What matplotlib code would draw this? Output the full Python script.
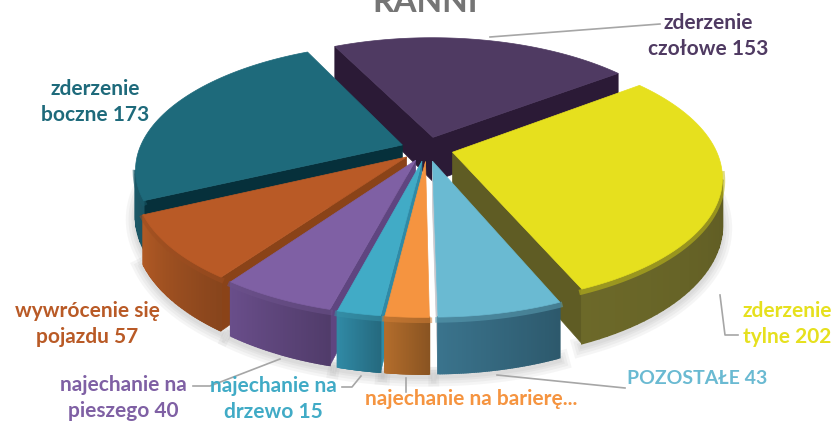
import numpy as np
import matplotlib
matplotlib.use("Agg")
import matplotlib.pyplot as plt
from matplotlib.colors import to_rgb

plt.rcParams["font.family"] = ["Lato", "DejaVu Sans"]

categories = ["zderzenie czołowe", "zderzenie tylne", "POZOSTAŁE", "najechanie na barierę",
              "najechanie na drzewo", "najechanie na pieszego", "wywrócenie się pojazdu",
              "zderzenie boczne"]
values = [153, 202, 43, 15, 15, 40, 57, 173]
tops = ["#4F3A62", "#E6E01E", "#6ABAD2", "#F59440", "#41ABC6", "#7F60A4", "#B95A26", "#1E6A7B"]
sides = ["#2B1A36", "#5F5C24", "#33657B", "#9C5F26", "#2A7890", "#5C4479", "#9A4E20", "#1F6070"]
radials = ["#2B1A36", "#5F5C24", "#C9C9CE", "#C27530", "#2F8AA6", "#5F4580", "#8A4318", "#06303B"]

start_deg = -26
cx, cy = 427, 149
a, b, k, h = 263, 122, 0.185, 45
explode = 0.1


def project(u, v, z=0.0):
    f = 1 / (1 - k * v)
    return cx + a * u * f, cy + (b * v + h * z) * f


def shade(color, amount):
    return tuple(min(1, c * amount) for c in to_rgb(color))


def draw_wedge(ax, t1, t2, top, side, radial):
    mid = (t1 + t2) / 2
    ou, ov = explode * np.sin(mid), -explode * np.cos(mid)
    ts = np.linspace(t1, t2, 60)
    us = ou + np.sin(ts)
    vs = ov - np.cos(ts)
    cam = np.array([0, 1 / k])

    # radial faces, only those turned to the viewer
    for t, sign in ((t1, -1), (t2, 1)):
        n = np.array([np.sin(t + sign * np.pi / 2), -np.cos(t + sign * np.pi / 2)])
        if n @ (cam - np.array([ou, ov])) > 0:
            eu, ev = ou + np.sin(t), ov - np.cos(t)
            pts = [project(ou, ov), project(eu, ev), project(eu, ev, 1), project(ou, ov, 1)]
            ax.fill(*zip(*pts), color=radial, lw=0.5, zorder=3)

    # outer side, split in strips for the gradient
    for i in range(len(ts) - 1):
        tm = (ts[i] + ts[i + 1]) / 2
        n = np.array([np.sin(tm), -np.cos(tm)])
        if n @ (cam - np.array([us[i], vs[i]])) <= 0:
            continue
        amount = 0.88 + 0.26 * i / (len(ts) - 2)
        pts = [project(us[i], vs[i]), project(us[i + 1], vs[i + 1]),
               project(us[i + 1], vs[i + 1], 1), project(us[i], vs[i], 1)]
        ax.fill(*zip(*pts), color=shade(side, amount), lw=1.2, zorder=3)

    # soft bevel just under the top edge
    near = vs > 0.15
    if near.any():
        bx, by = zip(*[project(u, v, 0.05) for u, v in zip(us[near], vs[near])])
        ax.plot(bx, by, color=shade(top, 0.85), lw=4, alpha=0.55, zorder=3)

    xs, ys = zip(*[project(u, v) for u, v in zip(us, vs)])
    ox, oy = project(ou, ov)
    ax.fill([ox, *xs], [oy, *ys], color=top, lw=0.5, zorder=3)


def draw_shadow(ax, t1, t2):
    mid = (t1 + t2) / 2
    ou, ov = explode * np.sin(mid), -explode * np.cos(mid)
    ts = np.linspace(t1, t2, 60)
    pts = [project(ou + np.sin(t), ov - np.cos(t), 1) for t in ts if -np.cos(t) > -0.2]
    if pts:
        xs, ys = zip(*pts)
        for width in (14, 10, 6, 3):
            ax.plot(xs, np.array(ys) + 3, color="#7A7A7A", alpha=0.07, lw=width, zorder=1)


fig = plt.figure(figsize=(8.36, 4.22), dpi=100)
ax = fig.add_axes([0, 0, 1, 1])
ax.set_xlim(0, 836)
ax.set_ylim(422, 0)
ax.axis("off")

angles = np.deg2rad(start_deg) + np.cumsum([0] + values) / sum(values) * 2 * np.pi
order = sorted(range(len(values)), key=lambda i: -np.cos((angles[i] + angles[i + 1]) / 2))
for i in order:
    draw_shadow(ax, angles[i], angles[i + 1])
for i in order:
    draw_wedge(ax, angles[i], angles[i + 1], tops[i], sides[i], radials[i])

ax.text(425, 12, "RANNI", color="#757575", fontsize=24, fontweight="bold", ha="center", va="baseline")

# leader lines
leaders = [
    ([490, 660], [37, 24]),
    ([720, 725, 738], [295, 335, 335]),
    ([497, 625], [375, 388]),
    ([406, 406], [378, 392]),
    ([361, 352, 342], [376, 387, 387]),
    ([280, 210, 193], [359, 386, 386]),
]
for lx, ly in leaders:
    ax.plot(lx, ly, color="#A6A6A6", lw=1.2, zorder=4)

labels = [
    (708, 36, "zderzenie\nczołowe 153", "#4F3A62", 15),
    (787, 324, "zderzenie\ntylne 202", "#E6E01E", 15),
    (697, 378, "POZOSTAŁE 43", "#6ABAD2", 14),
    (471, 399, "najechanie na barierę...", "#F59440", 15),
    (273, 399, "najechanie na\ndrzewo 15", "#41ABC6", 15),
    (123, 398, "najechanie na\npieszego 40", "#7F60A4", 15),
    (87, 324, "wywrócenie się\npojazdu 57", "#B95A26", 15),
    (95, 102, "zderzenie\nboczne 173", "#1E6A7B", 15),
]
for tx, ty, text, color, size in labels:
    ax.text(tx, ty, text, color=color, fontsize=size, fontweight="bold", ha="center",
            va="center", linespacing=1.35, zorder=5)

fig.savefig("out.png", dpi=100)
